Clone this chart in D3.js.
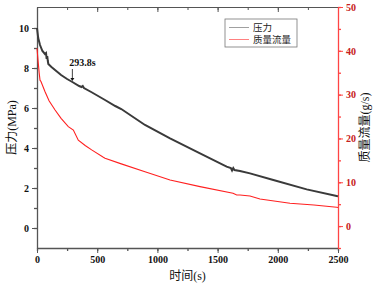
<!DOCTYPE html>
<html lang="zh">
  <head>
    <meta charset="UTF-8" />
    <title>压力与质量流量</title>
    <script src="https://cdn.jsdelivr.net/npm/d3@7/dist/d3.min.js"></script>
    <style>
      body { margin: 0; background: #fff; }
      text { font-family: 'Liberation Serif', 'Noto Sans CJK SC', serif; }
    </style>
  </head>
  <body>
    <svg width="373" height="286"></svg>
    <script>
      // 压力 (MPa) 随时间
      const pressureTime = [0, 10, 25, 45, 66, 75, 80, 85, 90, 94, 120, 150, 200, 250, 293.8, 350, 370, 380, 390, 450, 565, 650, 700, 897, 1105, 1354, 1575, 1610, 1620, 1630, 1640, 1686, 1769, 1963, 2240, 2489, 2500]
      const pressureVals = [10, 9.5, 9.15, 8.85, 8.7, 8.75, 8.45, 8.6, 8.35, 8.2, 8.05, 7.9, 7.65, 7.45, 7.3, 7.1, 7.05, 7.1, 7.0, 6.8, 6.4, 6.1, 5.95, 5.15, 4.48, 3.73, 3.07, 3.0, 2.88, 3.0, 2.9, 2.85, 2.73, 2.4, 1.93, 1.6, 1.58]
      // 质量流量 (g/s)
      const flowTime = [0, 8, 18, 25, 33, 66, 100, 150, 200, 260, 302, 343, 400, 454, 551, 565, 700, 897, 1105, 1354, 1628, 1659, 1686, 1769, 1852, 2101, 2300, 2489, 2500]
      const flowVals = [40.6, 38, 35, 33.3, 33, 30.7, 28.6, 26.5, 24.6, 22.7, 21.9, 19.6, 18.4, 17.4, 15.7, 15.5, 14.2, 12.4, 10.5, 9.0, 7.5, 7.1, 7.1, 6.85, 6.2, 5.2, 4.8, 4.3, 4.25]
      const xTicks = [0, 500, 1000, 1500, 2000, 2500]
      const leftTicks = [0, 2, 4, 6, 8, 10]
      const rightTicks = [0, 10, 20, 30, 40, 50]

      const svg = d3.select('svg')
      const m = { left: 37, right: 338, top: 7, bottom: 248 }

      const x = d3.scaleLinear().domain([0, 2500]).range([m.left, m.right])
      const yL = d3.scaleLinear().domain([-1, 11.05]).range([m.bottom, m.top])
      const yR = d3.scaleLinear().domain([-5, 50]).range([m.bottom, m.top])

      const axisColor = '#555'
      const red = '#ff4444'
      const serif = "'Liberation Serif', serif"

      function styleText(g, fill) {
        g.attr('font-family', null).attr('font-size', null)
        g.selectAll('text').attr('fill', fill)
          .style('font-family', serif).style('font-size', '10px').style('font-weight', 'bold')
      }

      // 顶部边框(刻度朝内)
      svg.append('g')
        .attr('transform', `translate(0,${m.top})`)
        .call(d3.axisBottom(x).tickValues(d3.range(0, 2501, 250)).tickSize(3).tickFormat(''))
        .call((g) => g.selectAll('line,path').attr('stroke', axisColor))
      svg.append('g')
        .attr('transform', `translate(0,${m.top})`)
        .call(d3.axisBottom(x).tickValues(xTicks).tickSize(5).tickFormat(''))
        .call((g) => g.select('path').remove())
        .call((g) => g.selectAll('line').attr('stroke', axisColor))

      // 底部 x 轴
      svg.append('g')
        .attr('transform', `translate(0,${m.bottom})`)
        .call(d3.axisBottom(x).tickValues(d3.range(0, 2501, 250)).tickSize(3).tickSizeOuter(0).tickFormat(''))
        .call((g) => g.selectAll('line,path').attr('stroke', axisColor).attr('stroke-width', 1.3))
      svg.append('g')
        .attr('transform', `translate(0,${m.bottom})`)
        .call(d3.axisBottom(x).tickValues(xTicks).tickSize(5).tickPadding(3).tickFormat(d3.format('d')))
        .call((g) => g.select('path').remove())
        .call((g) => g.selectAll('line').attr('stroke', axisColor))
        .call((g) => styleText(g, '#111'))

      // 左 y 轴
      svg.append('g')
        .attr('transform', `translate(${m.left},0)`)
        .call(d3.axisLeft(yL).tickValues(d3.range(0, 11, 1)).tickSize(3).tickSizeOuter(0).tickFormat(''))
        .call((g) => g.selectAll('line,path').attr('stroke', axisColor).attr('stroke-width', 1.3))
      svg.append('g')
        .attr('transform', `translate(${m.left},0)`)
        .call(d3.axisLeft(yL).tickValues(leftTicks).tickSize(5).tickPadding(3))
        .call((g) => g.select('path').remove())
        .call((g) => g.selectAll('line').attr('stroke', axisColor))
        .call((g) => styleText(g, '#111'))

      // 右 y 轴 (红色)
      svg.append('g')
        .attr('transform', `translate(${m.right},0)`)
        .call(d3.axisRight(yR).tickValues(d3.range(-5, 51, 5)).tickSize(3).tickSizeOuter(0).tickFormat(''))
        .call((g) => g.selectAll('line,path').attr('stroke', red).attr('stroke-width', 1.3))
      svg.append('g')
        .attr('transform', `translate(${m.right},0)`)
        .call(d3.axisRight(yR).tickValues(rightTicks).tickSize(5).tickPadding(3))
        .call((g) => g.select('path').remove())
        .call((g) => g.selectAll('line').attr('stroke', red))
        .call((g) => styleText(g, '#c62020'))

      // 曲线
      const lineP = d3.line().x((d) => x(d[0])).y((d) => yL(d[1]))
      const lineF = d3.line().x((d) => x(d[0])).y((d) => yR(d[1]))
      svg.append('path')
        .datum(flowTime.map((t, i) => [t, flowVals[i]]))
        .attr('fill', 'none').attr('stroke', '#ff2020').attr('stroke-width', 1.1)
        .attr('d', lineF)
      svg.append('path')
        .datum(pressureTime.map((t, i) => [t, pressureVals[i]]))
        .attr('fill', 'none').attr('stroke', '#3a3a3a').attr('stroke-width', 2)
        .attr('d', lineP)

      // 标注 293.8s
      const ax = x(293.8)
      svg.append('line')
        .attr('x1', ax).attr('x2', ax).attr('y1', yL(7.95)).attr('y2', yL(7.4))
        .attr('stroke', '#111').attr('stroke-width', 0.8)
      svg.append('path')
        .attr('d', `M${ax - 2},${yL(7.5)} L${ax + 2},${yL(7.5)} L${ax},${yL(7.35)} Z`)
        .attr('fill', '#111')
      svg.append('text')
        .attr('x', ax - 3).attr('y', yL(8.1))
        .style('font-family', serif)
        .style('font-size', '10px').style('font-weight', 'bold').attr('fill', '#111')
        .text('293.8s')

      // 图例
      const lg = svg.append('g').attr('transform', 'translate(225,19)')
      lg.append('rect').attr('width', 72).attr('height', 28)
        .attr('fill', '#fff').attr('stroke', '#777').attr('stroke-width', 0.8)
      const items = [['压力', '#888'], ['质量流量', '#ff6060']]
      items.forEach((it, i) => {
        lg.append('line').attr('x1', 4).attr('x2', 24).attr('y1', 8.5 + i * 12).attr('y2', 8.5 + i * 12)
          .attr('stroke', it[1]).attr('stroke-width', 0.8)
        lg.append('text').attr('x', 28).attr('y', 12 + i * 12)
          .style('font-size', '9.5px').style('font-family', 'Noto Sans CJK SC').attr('fill', '#222')
          .text(it[0])
      })

      // 坐标轴标题
      svg.append('text')
        .attr('transform', `translate(16,${(m.top + m.bottom) / 2}) rotate(-90)`)
        .attr('text-anchor', 'middle')
        .style('font-size', '12px').attr('fill', '#111')
        .text('压力(MPa)')
      svg.append('text')
        .attr('transform', `translate(369,${(m.top + m.bottom) / 2}) rotate(-90)`)
        .attr('text-anchor', 'middle')
        .style('font-size', '12px').attr('fill', '#111')
        .text('质量流量(g/s)')
      svg.append('text')
        .attr('x', (m.left + m.right) / 2).attr('y', 280)
        .attr('text-anchor', 'middle')
        .style('font-size', '12px').attr('fill', '#111')
        .text('时间(s)')
    </script>
  </body>
</html>
